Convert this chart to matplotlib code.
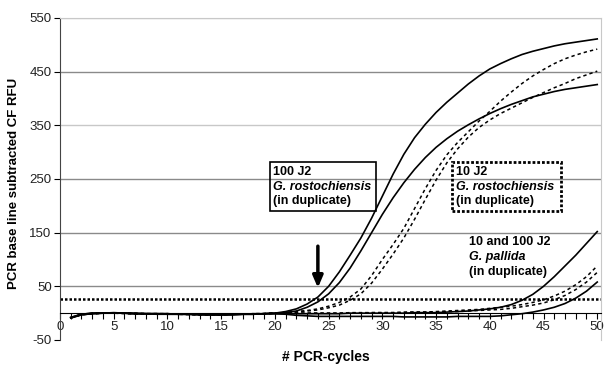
import matplotlib.pyplot as plt
from matplotlib.patches import Rectangle
from matplotlib.ticker import MultipleLocator

plt.rcParams["font.family"] = ["Liberation Sans", "DejaVu Sans"]
plt.rcParams["axes.unicode_minus"] = False

cycles = list(range(1, 51))

# 100 J2 G. rostochiensis (solid)
ros100_a = [-9, -3, -1, 0, 0, 0, -1, -1, -1, -1, -2, -2, -2, -2, -3, -3, -2, -2, -1, 0,
            3, 8, 17, 30, 50, 77, 108, 140, 177, 218, 259, 296, 327, 352, 374, 393, 410, 427, 442, 455,
            465, 474, 482, 488, 493, 498, 502, 505, 508, 511]
ros100_b = [-8, -2, 0, 0, 1, 0, 0, -1, -1, -2, -2, -2, -3, -3, -3, -2, -2, -1, -1, 0,
            1, 4, 11, 21, 36, 57, 84, 116, 150, 184, 215, 243, 268, 290, 309, 325, 339, 351, 362, 372,
            381, 389, 396, 403, 408, 413, 417, 420, 423, 426]

# 10 J2 G. rostochiensis (dotted)
ros10_a = [-9, -2, -1, 0, 0, -1, -1, -1, -2, -2, -2, -2, -3, -3, -3, -2, -2, -2, -1, 0,
           1, 3, 5, 8, 13, 20, 30, 45, 70, 100, 128, 158, 195, 232, 266, 295, 318, 338, 358, 376,
           395, 412, 428, 442, 454, 465, 474, 481, 487, 492]
ros10_b = [-8, -3, 0, 0, 0, 0, -1, -1, -1, -1, -2, -3, -3, -2, -2, -2, -2, -1, -1, 0,
           1, 2, 4, 6, 10, 15, 24, 36, 56, 82, 110, 140, 175, 212, 248, 280, 306, 328, 346, 360,
           372, 382, 392, 402, 411, 420, 428, 437, 444, 451]

# 10 and 100 J2 G. pallida
pal_a = [-9, -3, -1, 0, 0, 0, -1, -1, -1, -1, -2, -2, -2, -3, -3, -2, -2, -2, -1, -1,
         -1, -1, -1, -1, -1, -1, 0, 0, 0, 0, 0, 0, 1, 1, 1, 2, 3, 4, 6, 8,
         11, 16, 24, 35, 50, 68, 88, 108, 130, 152]
pal_b = [-8, -2, 0, 0, 0, 0, -1, -1, -2, -2, -2, -2, -3, -3, -3, -3, -2, -2, -1, -1,
         -2, -4, -5, -6, -6, -6, -6, -6, -6, -6, -6, -7, -7, -7, -7, -7, -6, -6, -6, -6,
         -5, -3, -1, 2, 6, 11, 18, 28, 41, 58]
pal_c = [-9, -2, -1, 0, 0, 0, 0, -1, -1, -1, -2, -2, -2, -2, -2, -2, -2, -1, -1, 0,
         0, 0, 0, 0, 0, 0, 1, 1, 1, 1, 1, 2, 2, 2, 3, 4, 5, 6, 7, 9,
         11, 13, 16, 20, 25, 32, 41, 53, 68, 88]
pal_d = [-8, -3, -1, 0, 0, 0, -1, -1, -1, -2, -2, -2, -2, -3, -3, -2, -2, -1, -1, 0,
         0, 0, 0, 0, 0, 0, 0, 0, 1, 1, 1, 1, 2, 2, 2, 3, 3, 4, 5, 6,
         7, 9, 12, 15, 19, 25, 33, 44, 58, 76]

threshold = 27
y_ticks = [-50, 50, 150, 250, 350, 450, 550]

fig = plt.figure(figsize=(6.06, 3.71), dpi=100)
ax = fig.add_axes([60 / 606, 31 / 371, 541 / 606, 322 / 371])

for y in y_ticks[1:]:
    col = "#c8c8c8" if y in (350, 550) else "#8a8a8a"
    ax.axhline(y, color=col, lw=1.0, zorder=1)

ax.axhline(threshold, color="black", lw=1.8, ls=(0, (1, 0.8)), zorder=2)

dash = (0, (2.2, 2.0))
ax.plot(cycles, ros100_a, color="black", lw=1.2, zorder=3)
ax.plot(cycles, ros100_b, color="black", lw=1.2, zorder=3)
ax.plot(cycles, ros10_a, color="black", lw=1.1, ls=dash, zorder=3)
ax.plot(cycles, ros10_b, color="black", lw=1.1, ls=dash, zorder=3)
ax.plot(cycles, pal_a, color="black", lw=1.2, zorder=3)
ax.plot(cycles, pal_b, color="black", lw=1.2, zorder=3)
ax.plot(cycles, pal_c, color="black", lw=1.1, ls=dash, zorder=3)
ax.plot(cycles, pal_d, color="black", lw=1.1, ls=dash, zorder=3)

ax.annotate("", xy=(24, 42), xytext=(24, 130),
            arrowprops=dict(arrowstyle="-|>,head_width=0.3,head_length=0.7",
                            color="black", lw=2.5), zorder=4)

# label boxes
ax.add_patch(Rectangle((19.5, 190), 9.9, 91, fill=False, ec="black", lw=1.2, zorder=4))
ax.add_patch(Rectangle((36.5, 190), 10.1, 92, fill=False, ec="black", lw=2.0,
                       ls=(0, (1, 0.7)), zorder=4))

fs = 9
for x0, lines in [(19.8, ["100 J2", "G. rostochiensis", "(in duplicate)"]),
                  (36.9, ["10 J2", "G. rostochiensis", "(in duplicate)"])]:
    for i, (txt, yv) in enumerate(zip(lines, [263, 236, 209])):
        ax.text(x0, yv, txt, fontsize=fs, fontweight="bold",
                style="italic" if i == 1 else "normal", va="center", ha="left", zorder=5)
for i, (txt, yv) in enumerate(zip(["10 and 100 J2", "G. pallida", "(in duplicate)"], [133, 104, 76])):
    ax.text(38.1, yv, txt, fontsize=fs, fontweight="bold",
            style="italic" if i == 1 else "normal", va="center", ha="left", zorder=5)

ax.set_xlim(0, 50.35)
ax.set_ylim(-50, 550)
ax.set_yticks(y_ticks)
ax.xaxis.set_major_locator(MultipleLocator(5))
ax.xaxis.set_minor_locator(MultipleLocator(1))

ax.spines["bottom"].set_position(("data", 0))
ax.spines["left"].set_position(("data", 0))
ax.spines["top"].set_color("#c8c8c8")
ax.spines["right"].set_color("#c8c8c8")
ax.spines["bottom"].set_color("black")
ax.spines["left"].set_color("#444444")

ax.tick_params(axis="x", which="both", direction="out", length=4, width=0.8,
               labelsize=9.5, pad=2)
ax.tick_params(axis="y", direction="out", length=4, width=0.8, labelsize=9.5, pad=2)
for lab in ax.get_xticklabels() + ax.get_yticklabels():
    lab.set_color("#222222")

fig.text(326 / 606, 1 - 357 / 371, "# PCR-cycles", fontsize=10, fontweight="bold",
         ha="center", va="center")
fig.text(14 / 606, 1 - 183 / 371, "PCR base line subtracted CF RFU", fontsize=9.5,
         fontweight="bold", rotation=90, ha="center", va="center")

fig.savefig("out.png", dpi=100)
